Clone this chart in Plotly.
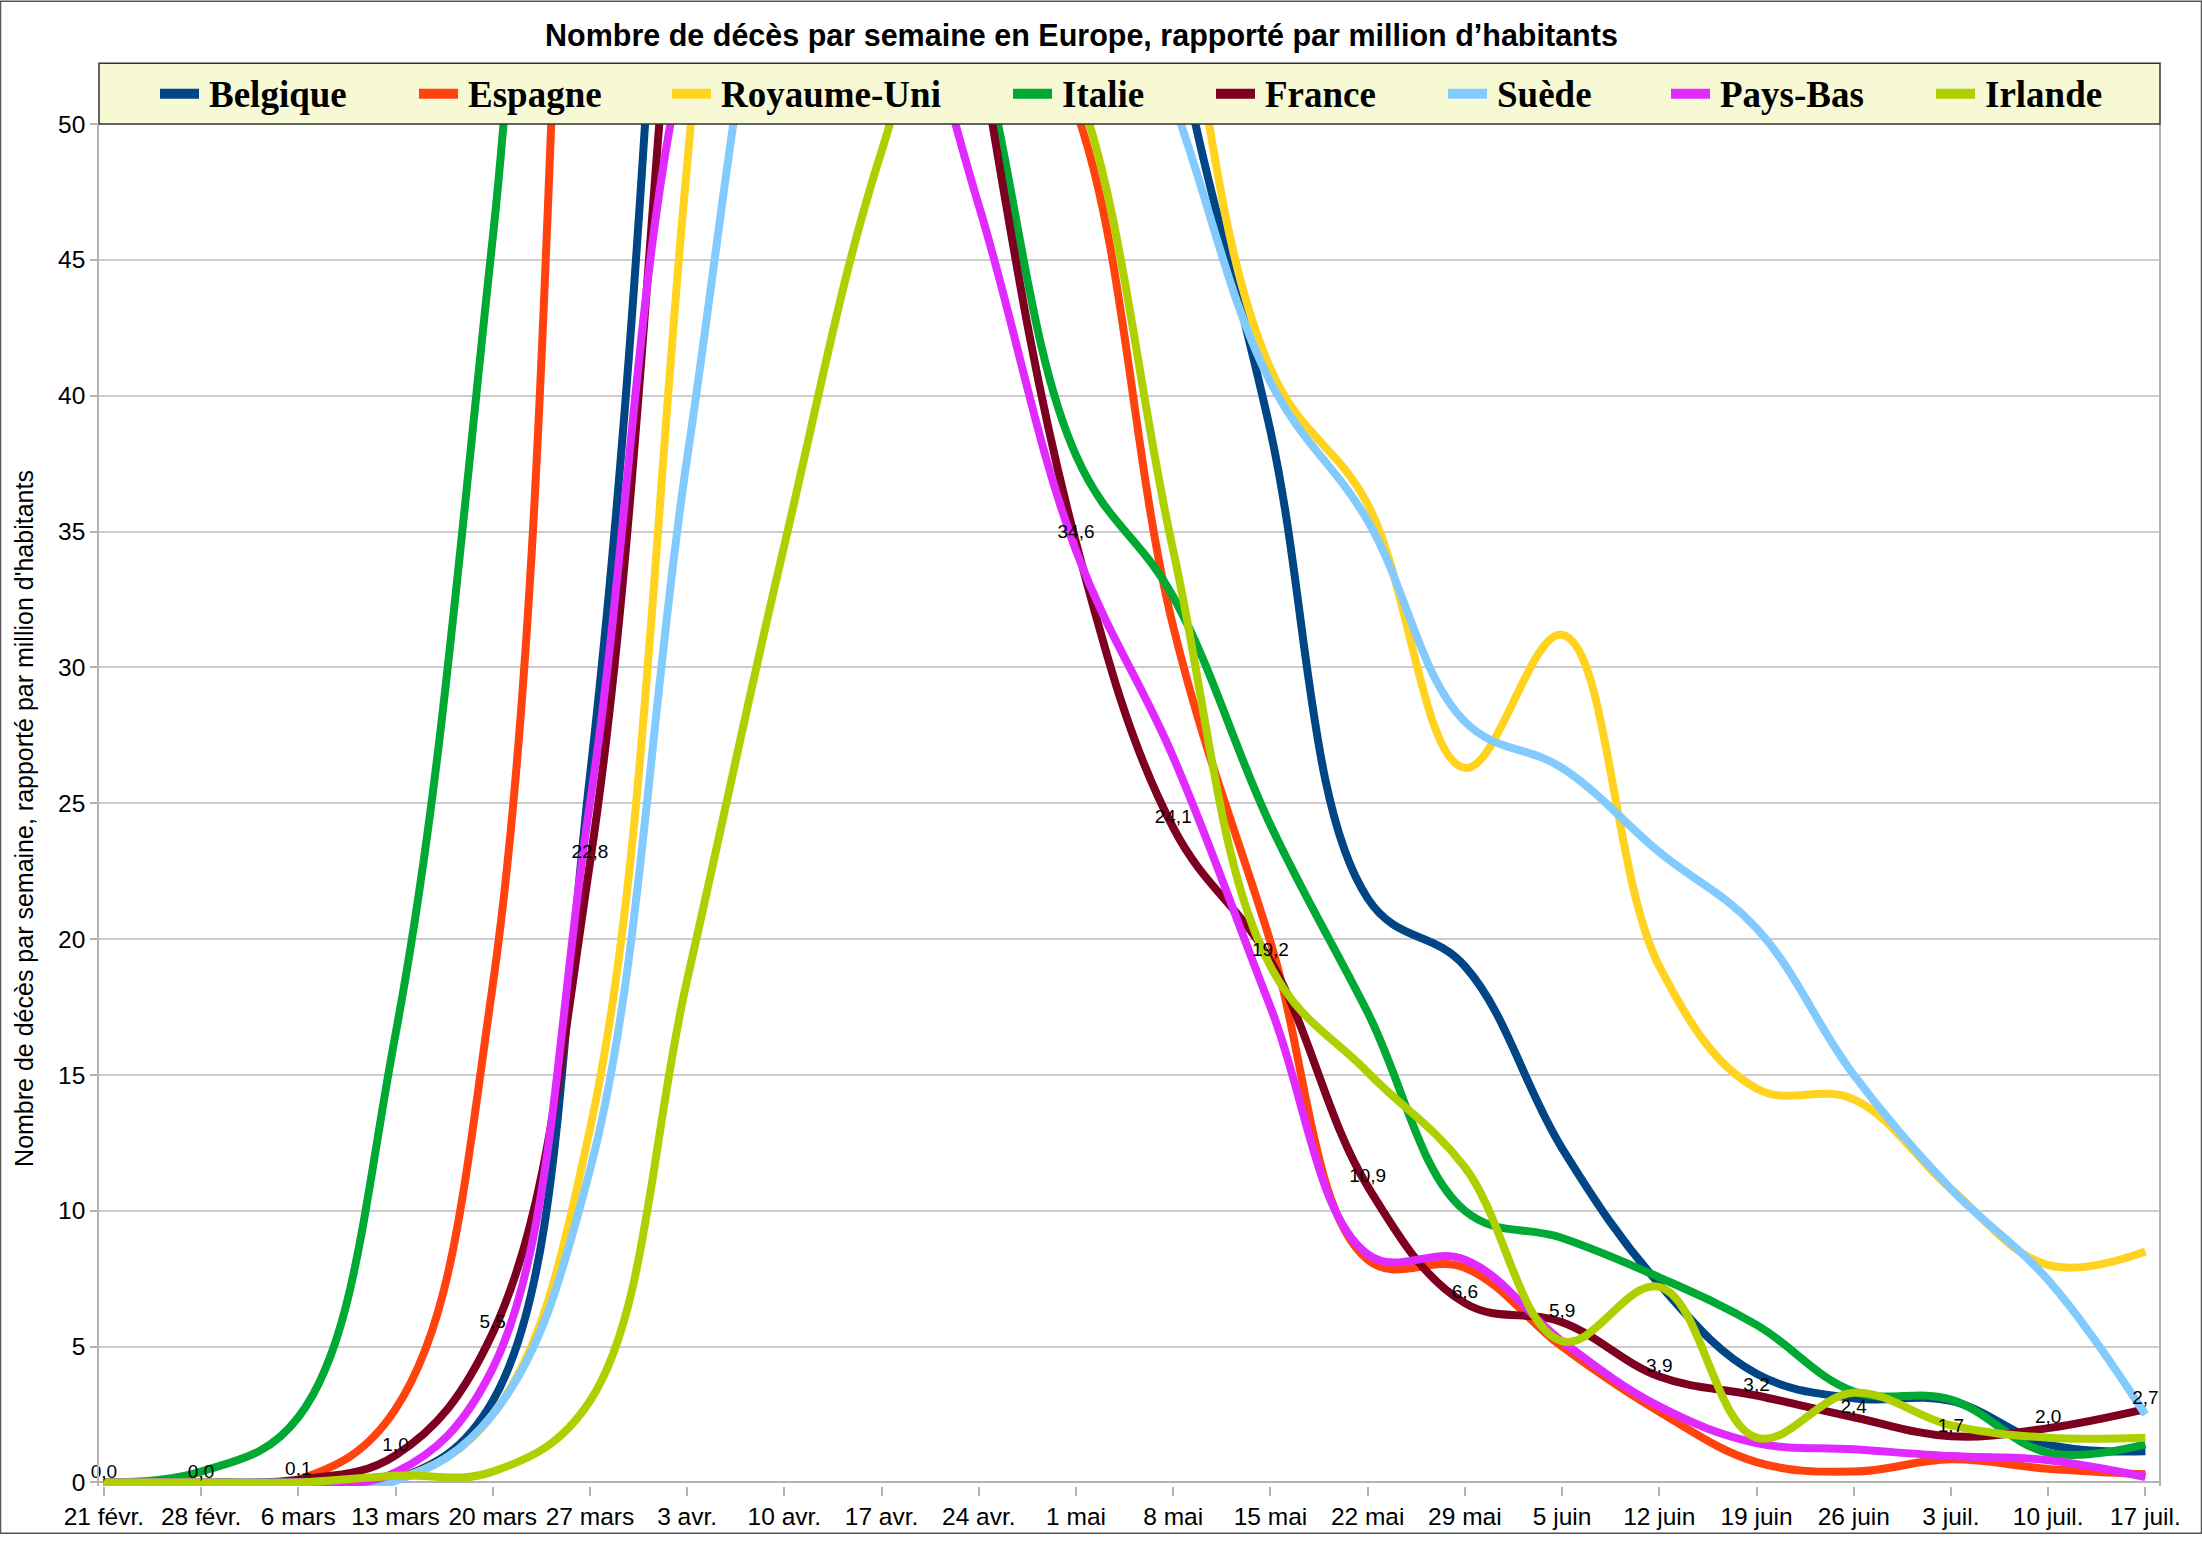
import plotly.graph_objects as go

# ---------------- data ----------------
weeks = ["21 févr.", "28 févr.", "6 mars", "13 mars", "20 mars", "27 mars",
         "3 avr.", "10 avr.", "17 avr.", "24 avr.", "1 mai", "8 mai",
         "15 mai", "22 mai", "29 mai", "5 juin", "12 juin", "19 juin",
         "26 juin", "3 juil.", "10 juil.", "17 juil."]

belgique = [0.0, 0.0, 0.0, 0.1, 3.0, 26.0, 75, 140, 150, 115, 80, 54,
            38.7, 21.5, 19.0, 12.3, 7.3, 4.0, 3.1, 3.0, 1.4, 1.15]
espagne = [0.0, 0.0, 0.1, 2.7, 18.3, 82, 129, 104, 77, 57, 50.5, 31.5,
           19.9, 8.2, 7.9, 5.0, 2.6, 0.75, 0.4, 0.85, 0.5, 0.3]
royaume_uni = [0.0, 0.0, 0.0, 0.1, 2.5, 13.0, 48.5, 90, 120, 105, 80, 58,
               41.0, 36.0, 26.3, 31.2, 19.0, 14.5, 14.1, 10.8, 8.0, 8.5]
italie = [0.0, 0.4, 2.4, 16.5, 45.8, 84, 92, 69, 64.5, 53, 37.8, 32.6,
          24.2, 17.3, 10.0, 9.0, 7.55, 5.8, 3.35, 3.05, 1.1, 1.4]
france = [0.0, 0.0, 0.1, 1.0, 5.5, 22.8, 62, 95, 78, 53, 34.6, 24.1,
          19.2, 10.9, 6.6, 5.9, 3.9, 3.2, 2.4, 1.7, 2.0, 2.7]
suede = [0.0, 0.0, 0.0, 0.06, 2.5, 11.5, 37.7, 60, 70, 67, 60, 50.8,
         40.5, 35.4, 28.0, 26.3, 23.2, 20.4, 15.0, 10.8, 7.45, 2.5]
pays_bas = [0.0, 0.0, 0.0, 0.37, 4.2, 25.0, 53, 63, 58, 47, 34.3, 26.7,
            17.5, 8.4, 8.2, 5.2, 2.8, 1.45, 1.22, 0.97, 0.82, 0.2]
irlande = [0.0, 0.0, 0.0, 0.25, 0.4, 3.0, 18.5, 34.5, 49, 58, 51.5, 34.3,
           19.0, 15.1, 11.6, 5.2, 7.2, 1.65, 3.3, 2.1, 1.65, 1.65]

series_names = ["Belgique", "Espagne", "Royaume-Uni", "Italie", "France",
                "Suède", "Pays-Bas", "Irlande"]
series_values = [belgique, espagne, royaume_uni, italie, france,
                 suede, pays_bas, irlande]
series_colors = ["#004586", "#ff420e", "#ffd320", "#00a933", "#7e0021",
                 "#83caff", "#e12aff", "#aecf00"]

title_text = "Nombre de décès par semaine en Europe, rapporté par million d’habitants"
ytitle_text = "Nombre de décès par semaine, rapporté par million d'habitants"
y_max = 50

# ---------------- layout geometry ----------------
W, H = 2202, 1542
L, R, T, B = 99, 43, 124, 48
PW, PH = W - L - R, H - T - B


def px(x):
    return (x - L) / PW


def py(y):
    return (H - B - y) / PH


fig = go.Figure()

for name, vals, col in zip(series_names, series_values, series_colors):
    fig.add_trace(go.Scatter(
        x=weeks, y=vals, name=name, mode="lines",
        line=dict(color=col, width=8, shape="spline", smoothing=1.1),
        showlegend=False, hoverinfo="skip"))

# data labels of France, drawn on top (only those inside the visible range)
fig.add_trace(go.Scatter(
    x=weeks, y=france, mode="text",
    text=[f"{v:.1f}".replace(".", ",") if v <= y_max else "" for v in france],
    textposition="top center",
    textfont=dict(family="Liberation Sans", size=19, color="#000000"),
    showlegend=False, hoverinfo="skip", cliponaxis=False))

shapes = []
annotations = []

# outer frame
shapes.append(dict(type="rect", xref="paper", yref="paper",
                   x0=px(0.5), x1=px(W - 0.5), y0=py(0.5), y1=py(H - 0.5),
                   line=dict(color="#555555", width=1.5), fillcolor="rgba(0,0,0,0)",
                   layer="above"))

# legend box
shapes.append(dict(type="rect", xref="paper", yref="paper",
                   x0=px(99), x1=px(2160), y0=py(124), y1=py(63),
                   line=dict(color="#333333", width=1.5), fillcolor="#f6f9d4",
                   layer="above"))

legend_x = [160, 419, 672, 1013, 1216, 1448, 1671, 1936]
for name, col, lx in zip(series_names, series_colors, legend_x):
    shapes.append(dict(type="rect", xref="paper", yref="paper",
                       x0=px(lx), x1=px(lx + 39), y0=py(98.5), y1=py(88.5),
                       line=dict(width=0), fillcolor=col, layer="above"))
    annotations.append(dict(xref="paper", yref="paper", x=px(lx + 47), y=py(94.5),
                            text=f"<b>{name}</b>", showarrow=False,
                            xanchor="left", yanchor="middle",
                            font=dict(family="Liberation Serif", size=37, color="#000000")))

# title
annotations.append(dict(xref="paper", yref="paper", x=px(1081), y=py(35),
                        text=f"<b>{title_text}</b>", showarrow=False,
                        xanchor="center", yanchor="middle",
                        font=dict(family="Liberation Sans", size=30.5, color="#000000")))
# y axis title
annotations.append(dict(xref="paper", yref="paper", x=px(24), y=py(823),
                        text=ytitle_text, showarrow=False, textangle=-90,
                        xanchor="center", yanchor="middle",
                        font=dict(family="Liberation Sans", size=25, color="#000000")))

fig.update_layout(
    width=W, height=H,
    margin=dict(l=L, r=R, t=T, b=B, pad=0),
    paper_bgcolor="#ffffff", plot_bgcolor="#ffffff",
    font=dict(family="Liberation Sans", size=24.5, color="#000000"),
    shapes=shapes, annotations=annotations,
    showlegend=False,
)

fig.update_xaxes(
    type="category", range=[-0.05, 21.14],
    showgrid=False, showline=False, zeroline=False,
    ticks="outside", ticklen=9, tickwidth=1.5, tickcolor="#b3b3b3",
    tickfont=dict(family="Liberation Sans", size=24.5, color="#000000"),
)
fig.update_yaxes(
    range=[-0.13, y_max], tick0=0, dtick=5,
    showgrid=True, gridcolor="#cccccc", gridwidth=1.5,
    zeroline=True, zerolinecolor="#b3b3b3", zerolinewidth=1.5,
    showline=True, linecolor="#b3b3b3", linewidth=1.5, mirror=True,
    ticks="outside", ticklen=7, tickwidth=1.5, tickcolor="#b3b3b3",
    tickfont=dict(family="Liberation Sans", size=24.5, color="#000000"),
)

fig.write_html("out.html",
               config={"displayModeBar": False},
               post_script="document.body.style.margin='0';document.body.style.overflow='hidden';")
